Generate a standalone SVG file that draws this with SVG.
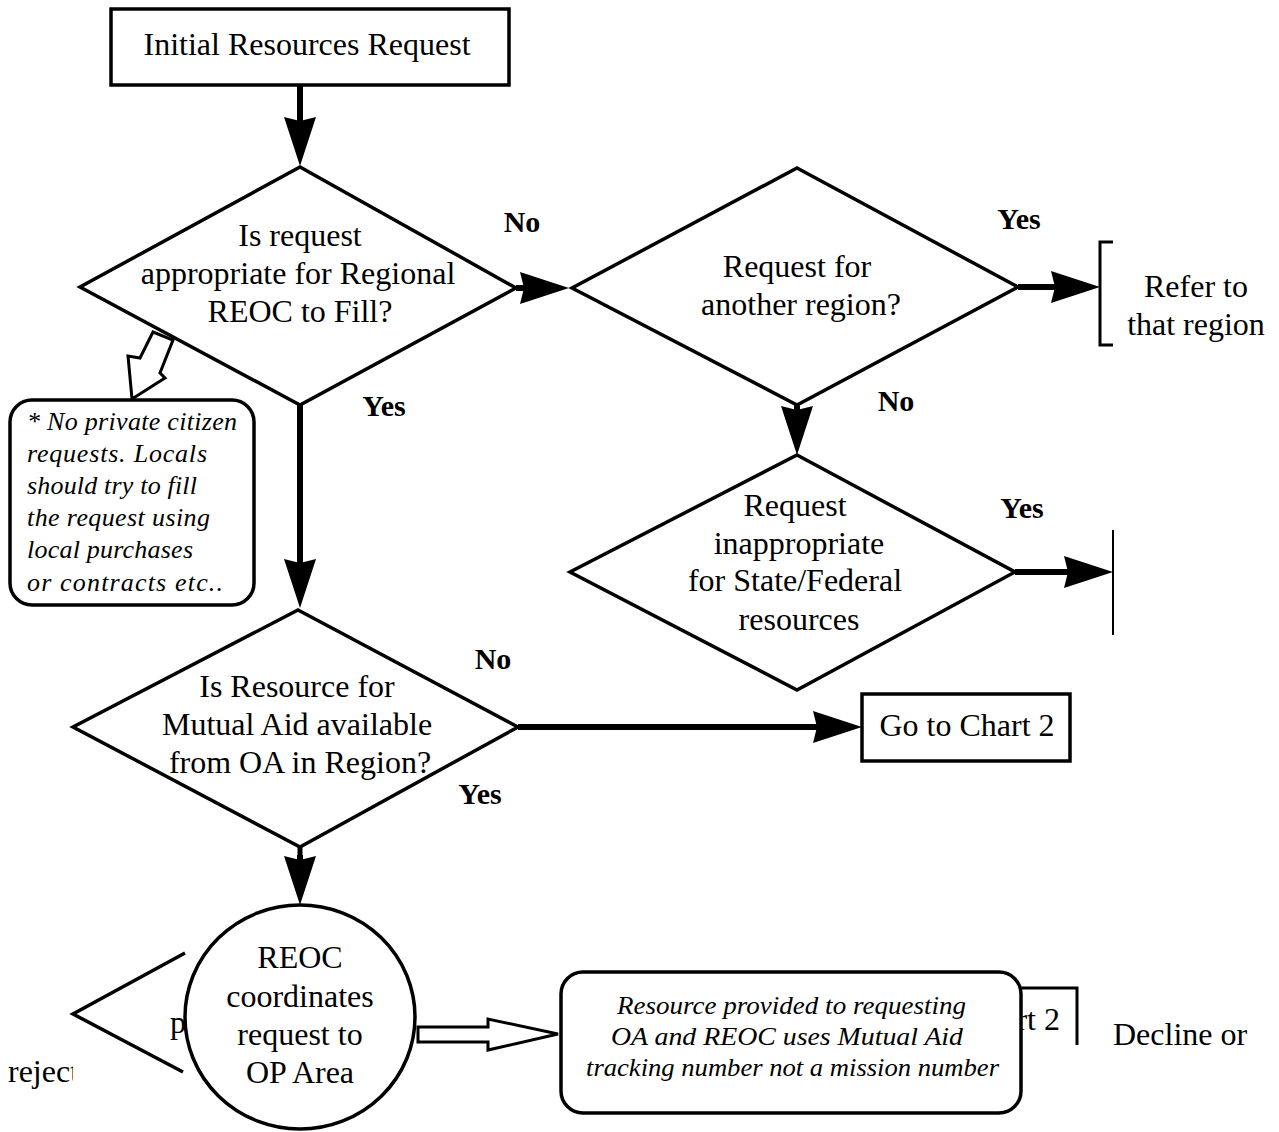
<svg xmlns="http://www.w3.org/2000/svg" width="1279" height="1132" viewBox="0 0 1279 1132">
<defs>
<style>
.t{font-family:"Liberation Serif","Times New Roman",serif;font-size:32px;fill:#000;text-anchor:middle}
.tl{font-family:"Liberation Serif","Times New Roman",serif;font-size:32px;fill:#000}
.b{font-family:"Liberation Serif","Times New Roman",serif;font-size:30px;font-weight:bold;fill:#000;text-anchor:middle}
.i{font-family:"Liberation Serif","Times New Roman",serif;font-size:26px;font-style:italic;fill:#000}
.shape{fill:#fff;stroke:#000;stroke-width:3.5}
.ln{fill:none;stroke:#000;stroke-width:3}
.conn{fill:none;stroke:#000;stroke-width:6;marker-end:url(#ah)}
.hollow{fill:#fff;stroke:#000;stroke-width:3;stroke-linejoin:miter}
</style>
<marker id="ah" markerUnits="userSpaceOnUse" markerWidth="50" markerHeight="34" refX="37" refY="16" orient="auto" overflow="visible">
<path d="M0,0 L49,16 L0,32 L4,16 Z" fill="#000"/>
</marker>
<clipPath id="clipRej"><rect x="0" y="1040" width="73" height="60"/></clipPath>
</defs>
<rect width="1279" height="1132" fill="#fff"/>

<g id="hollow-arrows">
<polygon class="hollow" points="153,332 140,358 128,356 132,399 165,378 160,373 173,340"/>
</g>

<g id="start">
<rect x="111" y="9" width="398" height="76" class="shape" stroke-width="3"/>
<text class="t" x="307" y="55">Initial Resources Request</text>
</g>

<g id="d1">
<polygon points="300,167 516,288 300,405 80,287" fill="none" stroke="#000" stroke-width="3.5"/>
<text class="t" x="300" y="246">Is request</text>
<text class="t" x="298" y="284">appropriate for Regional</text>
<text class="t" x="300" y="322">REOC to Fill?</text>
</g>

<g id="d2">
<polygon points="797,168 1018,287 797,405 572,288" class="shape"/>
<text class="t" x="797" y="277">Request for</text>
<text class="t" x="801" y="315">another region?</text>
</g>

<g id="refer">
<path class="ln" d="M1113,242 H1100 V345 H1113"/>
<text class="t" x="1196" y="297">Refer to</text>
<text class="t" x="1196" y="335">that region</text>
</g>

<g id="d3">
<polygon points="797,455 1015,572 797,690 570,572" class="shape"/>
<text class="t" x="795" y="516">Request</text>
<text class="t" x="799" y="554">inappropriate</text>
<text class="t" x="795" y="591">for State/Federal</text>
<text class="t" x="799" y="630">resources</text>
</g>
<g id="d3-target">
<path d="M1113,530 V635" stroke="#000" stroke-width="2" fill="none"/>
</g>

<g id="note">
<rect x="10" y="400" width="244" height="205" rx="22" class="shape" stroke-width="3"/>
<text class="i" x="27" y="430" textLength="210" lengthAdjust="spacing">* No private citizen</text>
<text class="i" x="27" y="462" textLength="180" lengthAdjust="spacing">requests.  Locals</text>
<text class="i" x="27" y="494" textLength="170" lengthAdjust="spacing">should try to fill</text>
<text class="i" x="27" y="526" textLength="183" lengthAdjust="spacing">the request using</text>
<text class="i" x="27" y="558" textLength="166" lengthAdjust="spacing">local purchases</text>
<text class="i" x="27" y="591" textLength="196" lengthAdjust="spacing">or contracts etc..</text>
</g>

<g id="d4">
<polygon points="298,610 518,727 300,847 73,727" class="shape"/>
<text class="t" x="297" y="697">Is Resource for</text>
<text class="t" x="297" y="735">Mutual Aid available</text>
<text class="t" x="300" y="773">from OA in Region?</text>
</g>

<g id="chart2">
<rect x="862" y="694" width="208" height="67" class="shape" stroke-width="3"/>
<text class="t" x="967" y="736">Go to Chart 2</text>
</g>

<g id="hidden-left">
<path d="M185,953 L73,1014 L183,1072" fill="none" stroke="#000" stroke-width="3.5"/>
<text class="tl" x="170" y="1033">p</text>
<text class="tl" x="8" y="1082" clip-path="url(#clipRej)">reject</text>
</g>

<g id="hidden-chart2">
<path class="ln" d="M1018,988 H1077 V1045" stroke-width="3.5"/>
<text class="tl" x="1060" y="1030" text-anchor="end">rt 2</text>
</g>

<g id="decline">
<text class="tl" x="1113" y="1045">Decline or</text>
</g>

<g id="reoc">
<ellipse cx="300" cy="1017" rx="115" ry="112" class="shape"/>
<text class="t" x="300" y="968">REOC</text>
<text class="t" x="300" y="1007">coordinates</text>
<text class="t" x="300" y="1045">request to</text>
<text class="t" x="300" y="1083">OP Area</text>
</g>

<g id="hollow-arrow-2">
<polygon class="hollow" points="418,1027 488,1027 488,1019 558,1034 488,1050 488,1042 418,1042"/>
</g>

<g id="resource">
<rect x="561" y="972" width="460" height="141" rx="22" class="shape" stroke-width="3"/>
<text class="i" x="617" y="1014" textLength="349" lengthAdjust="spacingAndGlyphs">Resource provided to requesting</text>
<text class="i" x="611" y="1045" textLength="352" lengthAdjust="spacingAndGlyphs">OA and REOC uses Mutual Aid</text>
<text class="i" x="586" y="1076" textLength="413" lengthAdjust="spacingAndGlyphs">tracking number not a mission number</text>
</g>

<g id="connectors">
<path class="conn" d="M300,86 V154"/>
<path class="conn" d="M516,288 H557"/>
<path class="conn" d="M1018,287 H1088"/>
<path class="conn" d="M797,405 V443"/>
<path class="conn" d="M1015,572 H1101"/>
<path class="conn" d="M300,405 V596"/>
<path class="conn" d="M518,727 H850"/>
<path d="M300,847 V860" stroke="#000" stroke-width="5"/>
<path class="conn" d="M300,855 V893"/>
</g>

<g id="labels">
<text class="b" x="522" y="232">No</text>
<text class="b" x="384" y="416">Yes</text>
<text class="b" x="1019" y="229">Yes</text>
<text class="b" x="896" y="411">No</text>
<text class="b" x="1022" y="518">Yes</text>
<text class="b" x="493" y="669">No</text>
<text class="b" x="480" y="804">Yes</text>
</g>
</svg>
